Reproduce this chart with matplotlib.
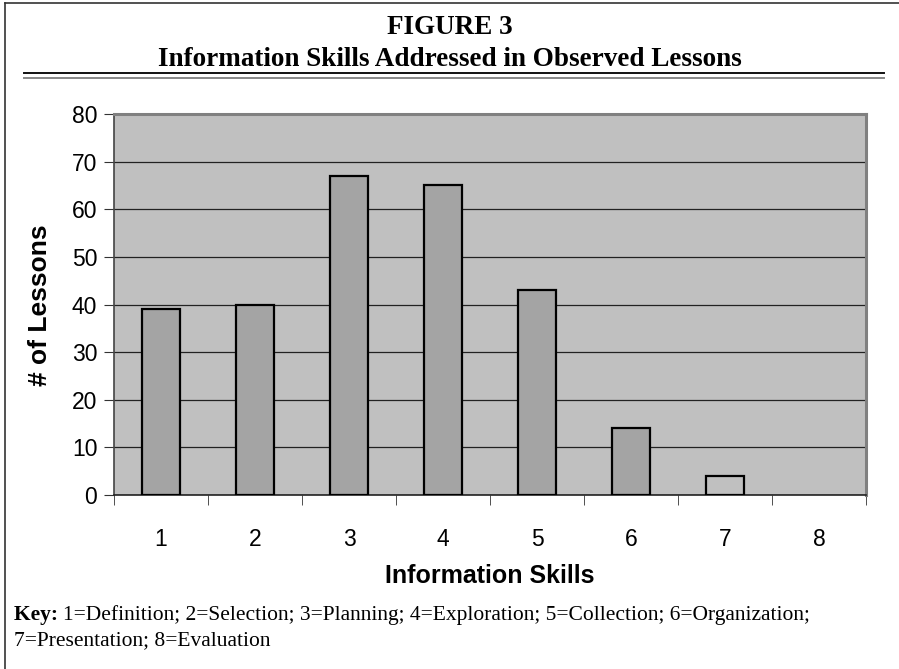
import numpy as np
import matplotlib.pyplot as plt
from matplotlib.lines import Line2D

skills = ["1", "2", "3", "4", "5", "6", "7", "8"]
lessons = [39, 40, 67, 65, 43, 14, 4, 0]
yticks = [0, 10, 20, 30, 40, 50, 60, 70, 80]

title1 = "FIGURE 3"
title2 = "Information Skills Addressed in Observed Lessons"
key1 = "1=Definition; 2=Selection; 3=Planning; 4=Exploration; 5=Collection; 6=Organization;"
key2 = "7=Presentation; 8=Evaluation"

W, H = 899, 669
fig = plt.figure(figsize=(W / 100, H / 100), dpi=100)

def fx(px):
    return px / W

def fy(py):
    return 1 - py / H

# outer frame (left and top only) and double rule under the title
fig.add_artist(Line2D([fx(5), fx(5)], [fy(3), fy(669)], color="#333333", lw=1.2))
fig.add_artist(Line2D([fx(5), fx(899)], [fy(3), fy(3)], color="#333333", lw=1.2))
fig.add_artist(Line2D([fx(24), fx(884)], [fy(73), fy(73)], color="#111111", lw=1.4))
fig.add_artist(Line2D([fx(24), fx(884)], [fy(78), fy(78)], color="#888888", lw=1.4))

serif = "Liberation Serif"
sans = "Liberation Sans"
fig.text(fx(450), fy(28), title1, ha="center", va="center", family=serif,
         weight="bold", fontsize=19.5)
fig.text(fx(450), fy(60), title2, ha="center", va="center", family=serif,
         weight="bold", fontsize=19.5)

key_lbl = fig.text(fx(14), fy(615), "Key: ", ha="left", va="center", family=serif,
                   weight="bold", fontsize=15.5)
fig.canvas.draw()
bb = key_lbl.get_window_extent()
fig.text(bb.x1 / W, fy(615), key1, ha="left", va="center", family=serif, fontsize=15.5)
fig.text(fx(14), fy(641), key2, ha="left", va="center", family=serif, fontsize=15.5)

ax = fig.add_axes([fx(114), fy(495), fx(866) - fx(114), (495 - 114) / H])
ax.set_facecolor("#c0c0c0")

x = np.arange(len(skills))
colors = ["#a4a4a4"] * 6 + ["#c0c0c0", "#a4a4a4"]
edges = ["black" if v > 0 else "none" for v in lessons]
ax.bar(x, lessons, width=0.41, color=colors, edgecolor=edges, linewidth=1.6, zorder=3)

ax.set_xlim(-0.5, len(skills) - 0.5)
ax.set_ylim(0, 80)
ax.set_yticks(yticks)
ax.yaxis.grid(True, color="#222222", lw=0.9, zorder=1)
ax.set_axisbelow(True)

ax.set_xticks(x)
ax.set_xticklabels(skills, family=sans, fontsize=16.5)
ax.set_xticks(np.arange(len(skills) + 1) - 0.5, minor=True)
ax.tick_params(axis="x", which="major", length=0, pad=24)
ax.tick_params(axis="x", which="minor", length=7, direction="out", color="#333333")
ax.tick_params(axis="y", length=7, direction="out", color="#333333", labelsize=16.5, pad=5)
for lab in ax.get_yticklabels():
    lab.set_family(sans)

for s in ["top", "right"]:
    ax.spines[s].set_color("#808080")
    ax.spines[s].set_linewidth(2.2)
ax.spines["left"].set_color("#444444")
ax.spines["left"].set_linewidth(1.2)
ax.spines["bottom"].set_color("#222222")
ax.spines["bottom"].set_linewidth(1.2)

fig.text(fx(40), fy(305), "# of Lessons", rotation=90, ha="center", va="center",
         family=sans, weight="bold", fontsize=19)
fig.text(fx(490), fy(576), "Information Skills", ha="center", va="center",
         family=sans, weight="bold", fontsize=18)

fig.savefig("out.png", dpi=100)
